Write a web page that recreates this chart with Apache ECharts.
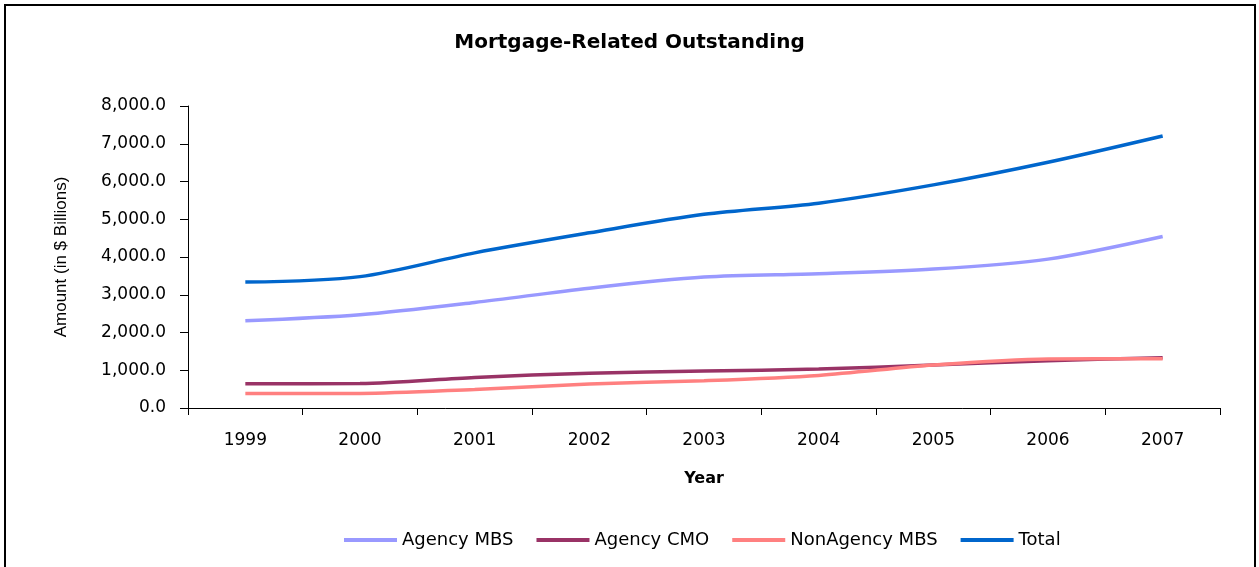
<!DOCTYPE html>
<html>
<head>
<meta charset="utf-8">
<script src="https://cdn.jsdelivr.net/npm/echarts@6/dist/echarts.min.js"></script>
<style>
  html, body { margin: 0; padding: 0; background: #fff; }
  #chart { width: 1259px; height: 567px; }
</style>
</head>
<body>
<div id="chart"></div>
<script>
// Years on the category axis
const years = ['1999', '2000', '2001', '2002', '2003', '2004', '2005', '2006', '2007'];

// Outstanding amounts, $ billions
const agencyMBS    = [2311, 2470, 2795, 3175, 3467, 3555, 3679, 3944, 4543];
const agencyCMO    = [643, 650, 811, 920, 979, 1032, 1138, 1252, 1331];
const nonAgencyMBS = [387, 387, 493, 635, 723, 864, 1138, 1297, 1305];
const total        = [3335, 3480, 4110, 4640, 5130, 5426, 5910, 6511, 7207];

const seriesNames  = ['Agency MBS', 'Agency CMO', 'NonAgency MBS', 'Total'];
const seriesColors = ['#9999FF', '#993366', '#FF8080', '#0066CC'];
const seriesData   = [agencyMBS, agencyCMO, nonAgencyMBS, total];

const chart = echarts.init(document.getElementById('chart'), null, { renderer: 'canvas' });

function fmtAmount(v) {
  return v.toFixed(1).replace(/\B(?=(\d{3})+(?!\d))/g, ',');
}

chart.setOption({
  animation: false,
  backgroundColor: '#fff',
  textStyle: { fontFamily: 'DejaVu Sans', color: '#000' },
  title: {
    text: 'Mortgage-Related Outstanding',
    left: 'center',
    top: 33,
    padding: 0,
    textStyle: { fontFamily: 'DejaVu Sans', fontWeight: 'bold', fontSize: 20, color: '#000' }
  },
  graphic: [{
    type: 'rect',
    shape: { x: 5, y: 5, width: 1250, height: 620 },
    style: { fill: 'none', stroke: '#000', lineWidth: 2 },
    silent: true
  }],
  legend: {
    data: seriesNames,
    left: 339,
    top: 526,
    itemWidth: 53,
    itemHeight: 18,
    itemGap: 23,
    icon: 'path://M0,0 L53,0 L53,4 L0,4 Z',
    textStyle: { fontFamily: 'DejaVu Sans', fontSize: 18, color: '#000' }
  },
  grid: { left: 188, right: 39, top: 106, bottom: 159, containLabel: false },
  xAxis: {
    type: 'category',
    data: years,
    boundaryGap: true,
    name: 'Year',
    nameLocation: 'middle',
    nameGap: 63,
    nameTextStyle: { fontFamily: 'DejaVu Sans', fontWeight: 'bold', fontSize: 16, color: '#000' },
    axisLine: { lineStyle: { color: '#000', width: 1 } },
    axisTick: { show: true, alignWithLabel: false, length: 7, lineStyle: { color: '#000' } },
    axisLabel: { margin: 24, fontSize: 17, fontFamily: 'DejaVu Sans', color: '#000' },
    splitLine: { show: false }
  },
  yAxis: {
    type: 'value',
    min: 0,
    max: 8000,
    interval: 1000,
    name: 'Amount (in $ Billions)',
    nameLocation: 'middle',
    nameRotate: 90,
    nameGap: 118,
    nameTextStyle: { fontFamily: 'Liberation Sans', fontSize: 17, color: '#000' },
    axisLine: { show: true, lineStyle: { color: '#000', width: 1 } },
    axisTick: { show: true, length: 8, lineStyle: { color: '#000' } },
    axisLabel: { margin: 22, fontSize: 17, fontFamily: 'DejaVu Sans', color: '#000', formatter: fmtAmount },
    splitLine: { show: false }
  },
  series: seriesNames.map((name, i) => ({
    name: name,
    type: 'line',
    data: seriesData[i],
    smooth: 0.3,
    symbol: 'none',
    color: seriesColors[i],
    lineStyle: { color: seriesColors[i], width: 3.5 }
  }))
});
</script>
</body>
</html>
